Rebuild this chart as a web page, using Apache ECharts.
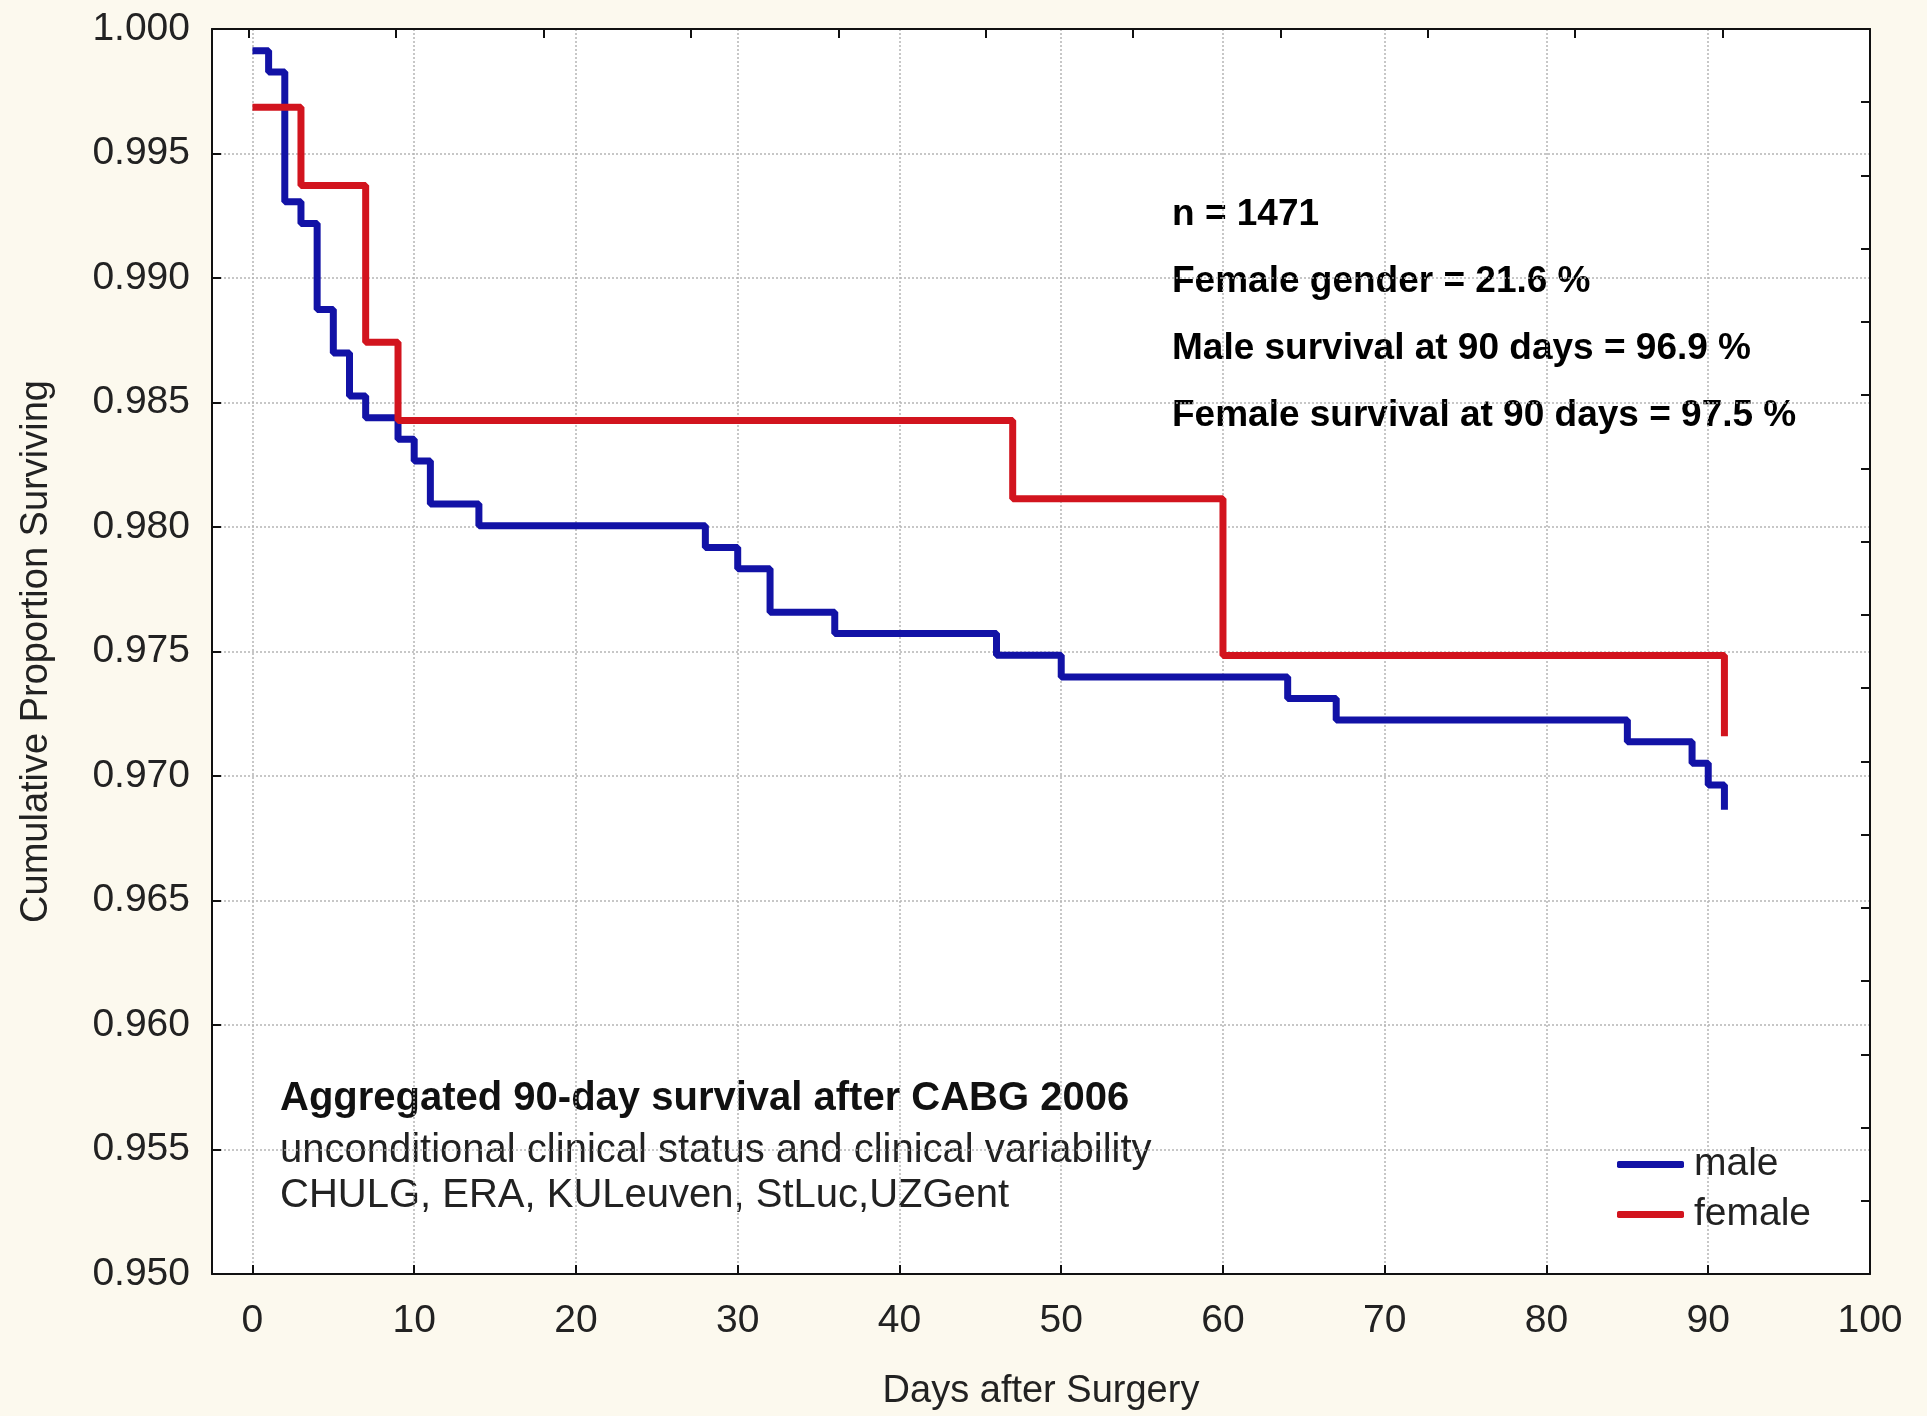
<!DOCTYPE html>
<html lang="en">
<head>
	<meta charset="UTF-8">
	<title>90-day survival after CABG 2006</title>
	<script src="https://cdn.jsdelivr.net/npm/echarts@6/dist/echarts.min.js"></script>
	<style>
		html, body { margin: 0; padding: 0; background: #fcf9ee; }
	</style>
</head>
<body>
	<div id="chart" style="width: 1927px; height: 1416px;"></div>
	<script type="text/javascript">
		// Kaplan-Meier steps
		const maleDays = [0, 1, 2, 3, 4, 5, 6, 7, 9, 10, 11, 14, 28, 30, 32, 36, 46, 50, 64, 67, 85, 89, 90, 91];
		const maleSurv = [0.99913, 0.99827, 0.99306, 0.99219, 0.98873, 0.98699, 0.98526, 0.98439, 0.98352, 0.98265,
			0.98092, 0.98005, 0.97918, 0.97832, 0.97658, 0.97572, 0.97485, 0.97398, 0.97311, 0.97225,
			0.97138, 0.97051, 0.96964, 0.96864];

		const femaleDays = [0, 3, 7, 9, 47, 60, 91];
		const femaleSurv = [0.99686, 0.99371, 0.98742, 0.98428, 0.98113, 0.97484, 0.97160];

		const dayTicks = [0, 10, 20, 30, 40, 50, 60, 70, 80, 90, 100];
		const topTicks = [0, 1, 2, 3, 4, 5, 6, 7, 8, 9, 10];

		const infoLines = [
			'n = 1471',
			'Female gender = 21.6 %',
			'Male survival at 90 days = 96.9 %',
			'Female survival at 90 days = 97.5 %'
		];
		const noteTitle = 'Aggregated 90-day survival after CABG 2006';
		const noteLines = [
			'unconditional clinical status and clinical variability',
			'CHULG, ERA, KULeuven, StLuc,UZGent'
		];

		const FONT = '"Liberation Sans", Arial, sans-serif';
		const zip = (xs, ys) => xs.map((x, i) => [x, ys[i]]);

		const chart = echarts.init(document.getElementById('chart'));

		const axisLine = { onZero: false, lineStyle: { color: '#111', width: 2 } };
		const gridLine = { show: true, lineStyle: { color: '#b5b5b5', width: 1.5, type: [2, 2] } };

		const graphics = [];
		infoLines.forEach((t, i) => {
			graphics.push({
				type: 'text', left: 1172, top: 216 + i * 67 - 20,
				style: { text: t, font: 'bold 37px ' + FONT, fill: '#000' }
			});
		});
		graphics.push({
			type: 'text', left: 280, top: 1101 - 22,
			style: { text: noteTitle, font: 'bold 40px ' + FONT, fill: '#111' }
		});
		noteLines.forEach((t, i) => {
			graphics.push({
				type: 'text', left: 280, top: 1153 + i * 45 - 22,
				style: { text: t, font: '40px ' + FONT, fill: '#222' }
			});
		});

		chart.setOption({
			animation: false,
			backgroundColor: '#fcf9ee',
			textStyle: { fontFamily: FONT },
			grid: { left: 212, right: 57, top: 29, bottom: 139, show: true, backgroundColor: '#fff', borderWidth: 0 },
			xAxis: [{
				type: 'value', position: 'bottom', min: -2.5, max: 100,
				axisLine: axisLine,
				axisTick: { inside: true, length: 9, customValues: dayTicks, lineStyle: { color: '#111', width: 2 } },
				axisLabel: { customValues: dayTicks, fontSize: 39, color: '#222', margin: 28 },
				splitLine: gridLine,
				name: 'Days after Surgery', nameLocation: 'middle', nameGap: 99,
				nameTextStyle: { fontSize: 38, color: '#222' }
			}, {
				type: 'value', position: 'top', min: -0.25, max: 11,
				axisLine: axisLine,
				axisTick: { inside: true, length: 9, customValues: topTicks, lineStyle: { color: '#111', width: 2 } },
				axisLabel: { show: false },
				splitLine: { show: false }
			}],
			yAxis: [{
				type: 'value', position: 'left', min: 0.95, max: 1.0, interval: 0.005,
				axisLine: { show: true, onZero: false, lineStyle: { color: '#111', width: 2 } },
				axisTick: { show: true, inside: true, length: 9, lineStyle: { color: '#111', width: 2 } },
				axisLabel: { fontSize: 39, color: '#222', margin: 22, formatter: v => v.toFixed(3) },
				splitLine: gridLine,
				name: 'Cumulative Proportion Surviving', nameLocation: 'middle', nameGap: 156,
				nameTextStyle: { fontSize: 38, color: '#222' }
			}, {
				type: 'value', position: 'right', min: 0, max: 17, interval: 1,
				axisLine: { show: true, onZero: false, lineStyle: { color: '#111', width: 2 } },
				axisTick: { show: true, inside: true, length: 9, lineStyle: { color: '#111', width: 2 } },
				axisLabel: { show: false },
				splitLine: { show: false }
			}],
			legend: {
				left: 1612, top: 1140, orient: 'vertical',
				icon: 'roundRect', itemWidth: 67, itemHeight: 7, itemGap: 11,
				textStyle: { fontSize: 39, color: '#222', padding: [0, 0, 0, 5] },
				data: ['male', 'female']
			},
			graphic: graphics,
			series: [{
				name: 'male', type: 'line', step: 'end', symbol: 'none',
				xAxisIndex: 0, yAxisIndex: 0,
				itemStyle: { color: '#1212a6' },
				lineStyle: { color: '#1212a6', width: 7 },
				data: zip(maleDays, maleSurv)
			}, {
				name: 'female', type: 'line', step: 'end', symbol: 'none',
				xAxisIndex: 0, yAxisIndex: 0,
				itemStyle: { color: '#d2141e' },
				lineStyle: { color: '#d2141e', width: 7 },
				data: zip(femaleDays, femaleSurv)
			}]
		});
	</script>
</body>
</html>
